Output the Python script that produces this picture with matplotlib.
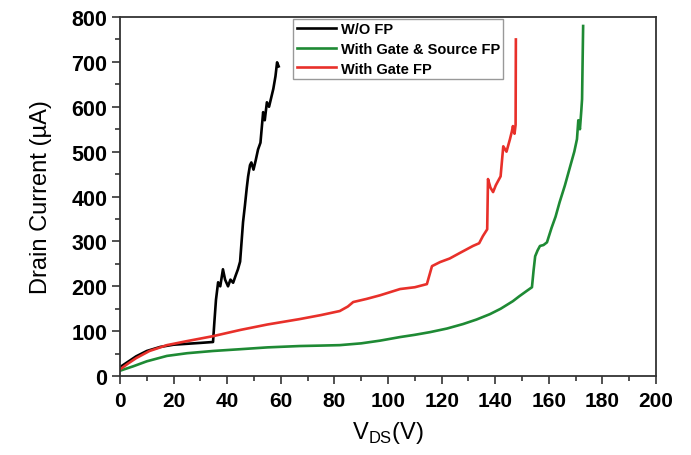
import matplotlib
matplotlib.use("Agg")
import matplotlib.pyplot as plt
from matplotlib.ticker import MultipleLocator

plt.rcParams["font.family"] = ["Liberation Sans", "DejaVu Sans"]

# W/O FP
v_wo = [0, 3, 6, 10, 15, 20, 25, 30, 34.7, 35.2, 35.8, 36.6, 37.4, 38.4, 39.2, 40.3,
        41.2, 42.2, 43.2, 44.0, 44.8, 45.9, 46.6, 47.3, 47.8, 48.5, 49.0, 49.8,
        50.6, 51.5, 52.4, 53.4, 54.0, 54.8, 55.6, 56.4, 57.2, 58.0, 58.6, 59.2]
i_wo = [20, 32, 44, 56, 65, 70, 72, 74, 76, 120, 170, 209, 200, 238, 215, 200,
        215, 208, 225, 238, 255, 343, 380, 420, 445, 470, 476, 460,
        480, 505, 520, 588, 570, 610, 600, 620, 640, 668, 699, 690]

# With Gate & Source FP
v_gs = [0, 5, 10, 17.5, 25, 34.7, 45, 55, 67, 75, 82, 90, 97, 104.5, 110, 115.7,
        122, 128, 133, 138, 142, 146.6, 149, 151.8, 153.7, 154.3, 154.9, 155.8,
        156.7, 158, 159.3, 161, 162.5, 164, 166, 168, 169.5, 170.5, 171.0, 171.6,
        172.1, 172.4, 172.6, 172.8]
i_gs = [12, 22, 33, 45, 51, 56, 60, 64, 67, 68, 69, 73, 79, 87, 92, 98,
        106, 116, 126, 138, 150, 167, 178, 190, 198, 235, 267, 280,
        290, 292, 298, 330, 355, 387, 425, 468, 500, 528, 570, 550,
        590, 617, 700, 780]

# With Gate FP
v_g = [0, 3, 6, 11, 17.5, 25, 34.7, 45, 55, 67, 75, 82, 85, 87, 92, 97, 104.5,
       110, 114.5, 116.4, 119.4, 123, 127, 131.7, 134, 135.4, 137, 137.3, 138.2,
       139.2, 140.2, 141, 142, 143, 144.2, 145.5, 146.2, 146.6, 147.2, 147.6, 147.7]
i_g = [15, 28, 40, 56, 69, 78, 89, 103, 115, 127, 136, 145, 155, 165, 172, 180, 194,
       198, 205, 245, 254, 262, 275, 290, 296, 312, 327, 439, 420,
       410, 425, 434, 445, 512, 500, 528, 545, 557, 540, 560, 750]

fig = plt.figure(figsize=(6.91, 4.56), dpi=100)
ax = fig.add_axes([0.1737, 0.173, 0.7757, 0.7875])

lw = 1.9
ax.plot(v_wo, i_wo, color="black", lw=lw, label="W/O FP")
ax.plot(v_gs, i_gs, color="#1e8a34", lw=lw, label="With Gate & Source FP")
ax.plot(v_g, i_g, color="#e8302a", lw=lw, label="With Gate FP")

ax.set_xlim(0, 200)
ax.set_ylim(0, 800)
ax.xaxis.set_major_locator(MultipleLocator(20))
ax.xaxis.set_minor_locator(MultipleLocator(10))
ax.yaxis.set_major_locator(MultipleLocator(100))
ax.yaxis.set_minor_locator(MultipleLocator(50))
ax.tick_params(which="both", direction="out", width=1.2, colors="#333333",
               labelcolor="black")
ax.tick_params(which="major", length=6)
ax.tick_params(which="minor", length=3.5)
ax.tick_params(axis="x", labelsize=15, pad=5)
ax.tick_params(axis="y", labelsize=15.5, pad=3)
for lab in ax.get_xticklabels() + ax.get_yticklabels():
    lab.set_fontweight("bold")
for sp in ax.spines.values():
    sp.set_linewidth(1.3)
    sp.set_color("#333333")

ax.set_xlabel(r"V$_{\mathregular{DS}}$(V)", fontsize=17, labelpad=6)
ax.set_ylabel("Drain Current (\u00b5A)", fontsize=17, labelpad=14)

leg = ax.legend(loc="upper left", bbox_to_anchor=(0.323, 0.995), fancybox=False,
                framealpha=1, edgecolor="#999999", handlelength=2.7,
                borderpad=0.25, labelspacing=0.38, handletextpad=0.3,
                prop={"weight": "bold", "size": 10.5}, borderaxespad=0)
leg.get_frame().set_linewidth(1.0)

fig.savefig("out.png", dpi=100)
plt.close(fig)
